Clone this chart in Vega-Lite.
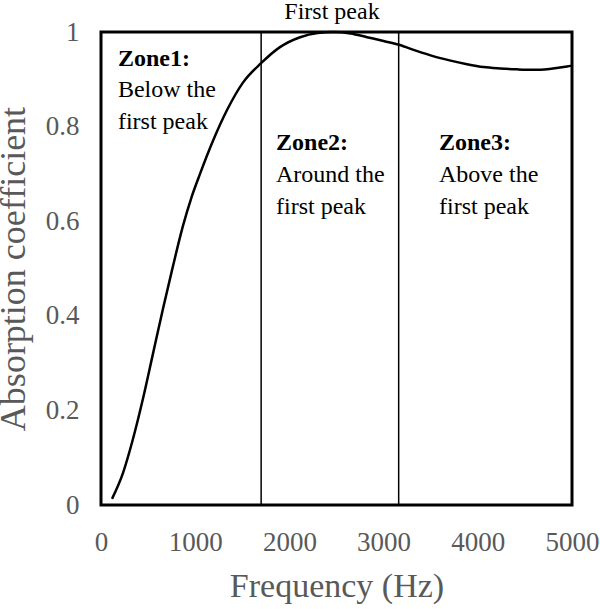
{
  "$schema": "https://vega.github.io/schema/vega-lite/v6.json",
  "autosize": "none",
  "width": 471,
  "height": 473,
  "padding": {"left": 101, "top": 32, "right": 28, "bottom": 104},
  "background": "white",
  "config": {
    "view": {"stroke": "black", "strokeWidth": 3},
    "font": "Liberation Serif, Times New Roman, DejaVu Serif, serif",
    "text": {"font": "Liberation Serif, Times New Roman, DejaVu Serif, serif"},
    "axis": {"grid": false, "ticks": false, "domain": false, "labelFont": "Liberation Serif, Times New Roman, DejaVu Serif, serif", "titleFont": "Liberation Serif, Times New Roman, DejaVu Serif, serif", "labelColor": "#595959", "titleColor": "#595959", "labelFontSize": 27, "titleFontSize": 34, "titleFontWeight": "normal"}
  },
  "datasets": {
    "curve": [
      {"f": 117, "a": 0.013},
      {"f": 234, "a": 0.068},
      {"f": 340, "a": 0.14},
      {"f": 446, "a": 0.225},
      {"f": 552, "a": 0.32},
      {"f": 658, "a": 0.415},
      {"f": 764, "a": 0.505},
      {"f": 870, "a": 0.59},
      {"f": 960, "a": 0.65},
      {"f": 1051, "a": 0.7},
      {"f": 1189, "a": 0.77},
      {"f": 1338, "a": 0.835},
      {"f": 1507, "a": 0.893},
      {"f": 1699, "a": 0.934},
      {"f": 1900, "a": 0.968},
      {"f": 2113, "a": 0.989},
      {"f": 2300, "a": 0.998},
      {"f": 2463, "a": 1.0},
      {"f": 2650, "a": 0.997},
      {"f": 2824, "a": 0.989},
      {"f": 3000, "a": 0.981},
      {"f": 3163, "a": 0.973},
      {"f": 3350, "a": 0.96},
      {"f": 3524, "a": 0.949},
      {"f": 3700, "a": 0.94},
      {"f": 3885, "a": 0.932},
      {"f": 4060, "a": 0.926},
      {"f": 4236, "a": 0.923},
      {"f": 4416, "a": 0.921},
      {"f": 4586, "a": 0.92},
      {"f": 4760, "a": 0.922},
      {"f": 4947, "a": 0.927},
      {"f": 5000, "a": 0.929}
    ],
    "bounds": [{"f": 1700}, {"f": 3160}],
    "heads": [
      {"label": "Zone1:", "f": 180, "a": 0.928},
      {"label": "Zone2:", "f": 1858, "a": 0.751},
      {"label": "Zone3:", "f": 3588, "a": 0.751}
    ],
    "lines": [
      {"label": "Below the", "f": 180, "a": 0.863},
      {"label": "first peak", "f": 180, "a": 0.795},
      {"label": "Around the", "f": 1858, "a": 0.683},
      {"label": "first peak", "f": 1858, "a": 0.615},
      {"label": "Above the", "f": 3588, "a": 0.683},
      {"label": "first peak", "f": 3588, "a": 0.615}
    ],
    "peak": [{"label": "First peak", "f": 2452, "a": 1.027}]
  },
  "layer": [
    {
      "data": {"name": "curve"},
      "mark": {"type": "line", "color": "black", "strokeWidth": 2.5, "interpolate": "monotone"},
      "encoding": {
        "x": {"field": "f", "type": "quantitative", "scale": {"domain": [0, 5000], "nice": false},
          "axis": {"values": [0, 1000, 2000, 3000, 4000, 5000], "format": "d", "labelPadding": 24, "title": "Frequency (Hz)", "titlePadding": 14, "labelFlush": false}},
        "y": {"field": "a", "type": "quantitative", "scale": {"domain": [0, 1], "nice": false},
          "axis": {"values": [0, 0.2, 0.4, 0.6, 0.8, 1], "format": "~g", "labelPadding": 22, "title": "Absorption coefficient", "titleFontSize": 36, "titleBaseline": "alphabetic", "titleX": -77, "titleAngle": -90, "labelFlush": false}}
      }
    },
    {
      "data": {"name": "bounds"},
      "mark": {"type": "rule", "color": "black", "strokeWidth": 1.5},
      "encoding": {"x": {"field": "f", "type": "quantitative"}}
    },
    {
      "data": {"name": "heads"},
      "mark": {"type": "text", "align": "left", "baseline": "alphabetic", "fontSize": 24, "fontWeight": "bold", "color": "black"},
      "encoding": {"x": {"field": "f", "type": "quantitative"}, "y": {"field": "a", "type": "quantitative"}, "text": {"field": "label"}}
    },
    {
      "data": {"name": "lines"},
      "mark": {"type": "text", "align": "left", "baseline": "alphabetic", "fontSize": 24, "color": "black"},
      "encoding": {"x": {"field": "f", "type": "quantitative"}, "y": {"field": "a", "type": "quantitative"}, "text": {"field": "label"}}
    },
    {
      "data": {"name": "peak"},
      "mark": {"type": "text", "align": "center", "baseline": "alphabetic", "fontSize": 24, "color": "black"},
      "encoding": {"x": {"field": "f", "type": "quantitative"}, "y": {"field": "a", "type": "quantitative"}, "text": {"field": "label"}}
    }
  ]
}
